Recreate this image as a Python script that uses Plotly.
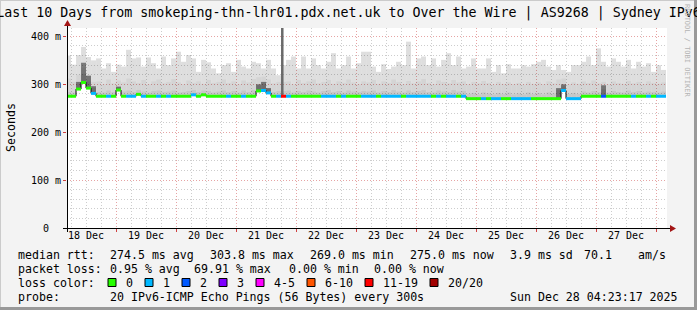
import pandas as pd
import plotly.graph_objects as go

# ---------------- data ----------------
title_text = "Last 10 Days from smokeping-thn-lhr01.pdx.net.uk to Over the Wire | AS9268 | Sydney IPv6"
range_start = "2025-12-18 04:23:17"
range_end = "2025-12-28 04:23:17"
bin_start = "2025-12-18 04:00:00"

day_labels = ["18 Dec", "19 Dec", "20 Dec", "21 Dec", "22 Dec", "23 Dec", "24 Dec", "25 Dec", "26 Dec", "27 Dec"]
day_label_times = ["2025-12-18 12:00", "2025-12-19 12:00", "2025-12-20 12:00", "2025-12-21 12:00",
                   "2025-12-22 12:00", "2025-12-23 12:00", "2025-12-24 12:00", "2025-12-25 12:00",
                   "2025-12-26 12:00", "2025-12-27 12:00"]
midnights = ["2025-12-19", "2025-12-20", "2025-12-21", "2025-12-22", "2025-12-23",
             "2025-12-24", "2025-12-25", "2025-12-26", "2025-12-27", "2025-12-28"]
y_tickvals = [0, 100, 200, 300, 400]
y_ticktext = ["0\u00a0\u00a0", "100 m", "200 m", "300 m", "400 m"]

# median rtt per 2h bin (ms)
median_rtt = [
    275, 275, 290, 303.8, 292, 281, 275, 275, 275, 275,
    288, 275, 275, 275, 279, 275, 275, 275, 275, 275,
    275, 275, 275, 275, 275, 278, 275, 278, 275, 275,
    275, 275, 275, 275, 275, 275, 275, 275, 286, 287,
    282, 275, 275, 275, 275, 275, 275, 275, 275, 275,
    275, 275, 275, 275, 275, 275, 275, 275, 275, 275,
    275, 275, 275, 275, 275, 275, 275, 275, 275, 275,
    275, 275, 275, 275, 275, 275, 275, 275, 275, 275,
    270, 270, 270, 270, 270, 270, 270, 270, 270, 270,
    270, 270, 270, 270, 270, 270, 270, 270, 270, 287,
    270, 270, 270, 275, 275, 275, 275, 275, 275, 275,
    275, 275, 275, 275, 275, 275, 275, 275, 275, 275,
]
# lost pings (of 20) per bin
loss_pings = [
    0, 0, 0, 0, 0, 1, 0, 0, 1, 0,
    0, 0, 1, 1, 0, 1, 0, 0, 1, 0,
    1, 0, 0, 0, 0, 1, 0, 0, 0, 0,
    0, 0, 1, 0, 0, 1, 0, 0, 0, 1,
    1, 0, 1, 15, 1, 0, 0, 0, 0, 0,
    0, 1, 1, 1, 0, 1, 0, 0, 0, 1,
    1, 1, 0, 1, 1, 1, 1, 0, 1, 1,
    1, 1, 1, 0, 1, 0, 1, 1, 0, 1,
    0, 0, 0, 1, 0, 1, 1, 0, 0, 1,
    1, 1, 1, 0, 0, 0, 0, 0, 0, 1,
    1, 1, 1, 0, 0, 0, 0, 2, 0, 0,
    0, 0, 0, 1, 0, 0, 1, 0, 1, 1,
]
# smoke: max ping, outer-middle band, inner band (ms)
smoke_max = [
    360, 341, 361, 378, 357, 350, 354, 333, 344, 326, 341, 337, 372, 354, 356, 337, 356, 344, 333, 358,
    340, 354, 368, 347, 361, 354, 326, 351, 346, 333, 323, 340, 344, 326, 351, 337, 333, 347, 344, 333,
    351, 333, 319, 340, 351, 358, 333, 358, 333, 354, 340, 333, 347, 365, 333, 340, 358, 333, 344, 368,
    368, 337, 326, 342, 332, 337, 347, 340, 389, 333, 354, 358, 340, 354, 337, 351, 365, 340, 358, 333,
    337, 354, 333, 333, 354, 326, 340, 323, 342, 333, 333, 340, 337, 342, 347, 351, 337, 330, 340, 330,
    326, 340, 340, 347, 358, 340, 375, 347, 337, 354, 347, 337, 351, 333, 347, 337, 344, 326, 340, 330,
]
smoke_mid = [
    312, 305, 320, 335, 318, 305, 306, 300, 310, 302, 308, 304, 312, 306, 303, 309, 300, 306, 310, 302,
    305, 311, 304, 300, 308, 303, 306, 301, 309, 303, 305, 310, 303, 306, 300, 308, 304, 311, 315, 316,
    310, 302, 305, 305, 306, 300, 309, 303, 306, 310, 302, 305, 309, 301, 306, 303, 310, 304, 300, 306,
    304, 309, 301, 306, 303, 310, 305, 300, 307, 302, 306, 311, 303, 300, 308, 305, 302, 309, 304, 306,
    300, 305, 302, 307, 303, 299, 305, 301, 304, 300, 303, 299, 305, 301, 304, 300, 306, 302, 310, 312,
    300, 304, 301, 306, 303, 308, 302, 305, 300, 306, 303, 301, 307, 302, 305, 300, 306, 303, 301, 304,
]
smoke_low = [
    284, 283, 300, 322, 306, 292, 284, 283, 287, 284, 296, 285, 287, 284, 288, 285, 283, 286, 287, 284,
    285, 287, 283, 284, 286, 288, 284, 287, 286, 283, 285, 287, 284, 286, 283, 287, 284, 288, 298, 300,
    292, 284, 286, 286, 287, 283, 286, 284, 287, 285, 283, 286, 288, 284, 286, 283, 287, 285, 284, 286,
    285, 287, 283, 286, 284, 288, 285, 283, 287, 284, 286, 288, 284, 283, 287, 285, 284, 288, 285, 286,
    280, 282, 279, 283, 281, 279, 282, 280, 283, 279, 281, 279, 283, 280, 282, 279, 283, 281, 288, 296,
    280, 282, 280, 285, 283, 286, 284, 290, 283, 286, 284, 283, 287, 284, 286, 283, 285, 284, 283, 285,
]
# dark smoke core around the spikes
core_bins = [2, 3, 4, 5, 10, 38, 39, 40, 98, 99, 107]
core_top = [305, 345, 318, 296, 295, 300, 305, 292, 292, 300, 298]
# high-loss bin whose smoke runs off the top of the chart
spike_time = ["2025-12-21 18:30:00"]
spike_base = [275]
spike_top = [500]

loss_labels = ["0", "1", "2", "3", "4-5", "6-10", "11-19", "20/20"]
loss_colors = ["#26ff00", "#00b8ff", "#0059ff", "#7e00ff", "#ff00ff", "#ff5500", "#ff0000", "#a10000"]
loss_upper = [0, 1, 2, 3, 5, 10, 19, 20]

stat_rows = [
    ["median rtt:", "274.5 ms avg", "303.8 ms max", "269.0 ms min", "275.0 ms now", "3.9 ms sd", "70.1", "am/s"],
    ["packet loss:", "0.95 % avg", "69.91 % max", "0.00 % min", "0.00 % now"],
]
stat_x = [
    [16, 107.6, 207.6, 307.6, 408, 507.6, 582, 635.6],
    [16, 107.6, 192.4, 286.7, 372.4],
]
probe_text = "20 IPv6-ICMP Echo Pings (56 Bytes) every 300s"
date_text = "Sun Dec 28 04:23:17 2025"

# ---------------- geometry helpers ----------------
W, H = 697, 310
L, R, T, B = 67, 667, 28, 228


def px(p):
    return (p - L) / (R - L)


def py(q):
    return (B - q) / (B - T)


FONT = "DejaVu Sans Mono"
n = len(median_rtt)
starts = pd.date_range(bin_start, periods=n, freq="2h")
centers = starts + pd.Timedelta(hours=1)
ends = starts + pd.Timedelta(hours=2)
BW = 2 * 3600 * 1000

fig = go.Figure()

# smoke bands
for top, col in [(smoke_max, "rgba(0,0,0,0.13)"),
                 (smoke_mid, "rgba(0,0,0,0.045)"),
                 (smoke_low, "rgba(0,0,0,0.06)")]:
    fig.add_trace(go.Bar(x=centers, y=[t - m for t, m in zip(top, median_rtt)], base=median_rtt,
                         width=BW, marker=dict(color=col, line=dict(width=0)), hoverinfo="skip"))
fig.add_trace(go.Bar(x=[centers[i] for i in core_bins],
                     y=[t - median_rtt[i] for i, t in zip(core_bins, core_top)],
                     base=[median_rtt[i] for i in core_bins], width=BW,
                     marker=dict(color="rgba(0,0,0,0.45)", line=dict(width=0)), hoverinfo="skip"))
fig.add_trace(go.Bar(x=pd.to_datetime(spike_time), y=[t - b for t, b in zip(spike_top, spike_base)],
                     base=spike_base, width=3600 * 1000,
                     marker=dict(color="#6a6a6a", line=dict(width=0)), hoverinfo="skip"))

# median line (black connectors)
fig.add_trace(go.Scatter(x=list(starts) + [ends[-1]], y=median_rtt + [median_rtt[-1]], mode="lines",
                         line=dict(color="#000000", width=1, shape="hv"), hoverinfo="skip"))


def loss_class(v):
    for k, u in enumerate(loss_upper):
        if v <= u:
            return k
    return len(loss_upper) - 1


for k, col in enumerate(loss_colors):
    xs, ys = [], []
    for i in range(n):
        if loss_class(loss_pings[i]) == k:
            xs += [starts[i], ends[i], None]
            ys += [median_rtt[i], median_rtt[i], None]
    if xs:
        fig.add_trace(go.Scatter(x=xs, y=ys, mode="lines", line=dict(color=col, width=3),
                                 hoverinfo="skip", connectgaps=False))

# dummy trace to activate the overlay axis that carries the midnight grid
fig.add_trace(go.Scatter(x=[range_start], y=[0], xaxis="x2", mode="markers",
                         marker=dict(opacity=0), hoverinfo="skip"))

MAJ = "#e6a4a4"
MIN = "#cdcdcd"

shapes = [
    # rrdtool-like 3D border
    dict(type="line", xref="paper", yref="paper", x0=px(0), x1=px(W), y0=py(0.5), y1=py(0.5),
         line=dict(color="#cbcbcb", width=1)),
    dict(type="line", xref="paper", yref="paper", x0=px(0.5), x1=px(0.5), y0=py(0), y1=py(H),
         line=dict(color="#cbcbcb", width=1)),
    dict(type="line", xref="paper", yref="paper", x0=px(0), x1=px(W), y0=py(H - 1.5), y1=py(H - 1.5),
         line=dict(color="#999999", width=3)),
    dict(type="line", xref="paper", yref="paper", x0=px(W - 1.5), x1=px(W - 1.5), y0=py(0), y1=py(H),
         line=dict(color="#999999", width=3)),
    # axis lines
    dict(type="line", xref="paper", yref="paper", x0=px(63), x1=px(671), y0=py(228.5), y1=py(228.5),
         line=dict(color="#000000", width=1)),
    dict(type="line", xref="paper", yref="paper", x0=px(67.5), x1=px(67.5), y0=py(232), y1=py(25),
         line=dict(color="#000000", width=1)),
    # arrow heads
    dict(type="path", xref="paper", yref="paper",
         path=f"M {px(676)} {py(228.5)} L {px(670)} {py(225)} L {px(670)} {py(232)} Z",
         fillcolor="#a31515", line=dict(width=0)),
    dict(type="path", xref="paper", yref="paper",
         path=f"M {px(67.5)} {py(20)} L {px(64)} {py(26)} L {px(71)} {py(26)} Z",
         fillcolor="#a31515", line=dict(width=0)),
]

annotations = [
    dict(text="Seconds", x=px(11), y=py(128), xref="paper", yref="paper", textangle=-90,
         xanchor="center", yanchor="middle",
         showarrow=False, font=dict(family=FONT, size=11.6, color="#000")),
    dict(text="RRDTOOL / TOBI OETIKER", x=px(687), y=py(51), xref="paper", yref="paper", textangle=90,
         xanchor="center", yanchor="middle",
         showarrow=False, font=dict(family=FONT, size=7.0, color="#b4b4b4")),
]
row_y = [255, 268.5]
for r, row in enumerate(stat_rows):
    for txt, xx in zip(row, stat_x[r]):
        annotations.append(dict(text=txt, x=px(xx), y=py(row_y[r]), xref="paper", yref="paper",
                                xanchor="left", yanchor="middle", showarrow=False,
                                font=dict(family=FONT, size=11.6, color="#000")))
annotations.append(dict(text="loss color:", x=px(16), y=py(282.5), xref="paper", yref="paper",
                        xanchor="left", yanchor="middle", showarrow=False,
                        font=dict(family=FONT, size=11.6, color="#000")))
sx = 108
for lab, col in zip(loss_labels, loss_colors):
    shapes.append(dict(type="rect", xref="paper", yref="paper", x0=px(sx), x1=px(sx + 8),
                       y0=py(286.5), y1=py(278.5), fillcolor=col, line=dict(color="#000", width=1)))
    lx = sx + 15.5
    annotations.append(dict(text=lab, x=px(lx), y=py(282.5), xref="paper", yref="paper",
                            xanchor="left", yanchor="middle", showarrow=False,
                            font=dict(family=FONT, size=11.6, color="#000")))
    sx = lx + len(lab) * 7 + 14.5
annotations.append(dict(text="probe:", x=px(16), y=py(296.5), xref="paper", yref="paper",
                        xanchor="left", yanchor="middle", showarrow=False,
                        font=dict(family=FONT, size=11.6, color="#000")))
annotations.append(dict(text=probe_text, x=px(107.6), y=py(296.5), xref="paper", yref="paper",
                        xanchor="left", yanchor="middle", showarrow=False,
                        font=dict(family=FONT, size=11.6, color="#000")))
annotations.append(dict(text=date_text, x=px(680), y=py(296.5), xref="paper", yref="paper",
                        xanchor="right", yanchor="middle", showarrow=False,
                        font=dict(family=FONT, size=11.6, color="#000")))

fig.update_layout(
    width=W, height=H,
    margin=dict(l=L, r=W - R, t=T, b=H - B, pad=0),
    paper_bgcolor="#f3f3f3", plot_bgcolor="#ffffff",
    showlegend=False, hovermode=False, barmode="overlay",
    title=dict(text=title_text, x=0.5, xref="container", xanchor="center",
               y=1 - 12 / H, yref="container", yanchor="middle",
               font=dict(family=FONT, size=13.3, color="#000")),
    xaxis=dict(type="date", range=[range_start, range_end], tickmode="array",
               tickvals=day_label_times, ticktext=day_labels, ticks="", showgrid=False,
               zeroline=False, showline=False,
               tickfont=dict(family=FONT, size=10, color="#000"),
               minor=dict(dtick=6 * 3600 * 1000, tick0="2025-12-18", showgrid=True,
                          gridcolor=MIN, griddash="1px,2px", gridwidth=1)),
    xaxis2=dict(type="date", range=[range_start, range_end], overlaying="x", anchor="y", side="bottom",
                tickmode="array", tickvals=midnights, showticklabels=False,
                ticks="outside", ticklen=3, tickcolor="#d04040", tickwidth=1,
                showgrid=True, gridcolor=MAJ, griddash="1px,2px", gridwidth=1,
                zeroline=False, showline=False),
    yaxis=dict(range=[0, 417.5], tickmode="array", tickvals=y_tickvals, ticktext=y_ticktext,
               ticks="outside", ticklen=3, tickcolor="#d04040",
               showgrid=True, gridcolor=MAJ, griddash="1px,2px", gridwidth=1,
               zeroline=False, showline=False,
               tickfont=dict(family=FONT, size=10, color="#000"),
               minor=dict(dtick=20, tick0=0, showgrid=True, gridcolor=MIN, griddash="1px,2px",
                          gridwidth=1)),
    shapes=shapes, annotations=annotations,
)

fig.write_html("out.html")
